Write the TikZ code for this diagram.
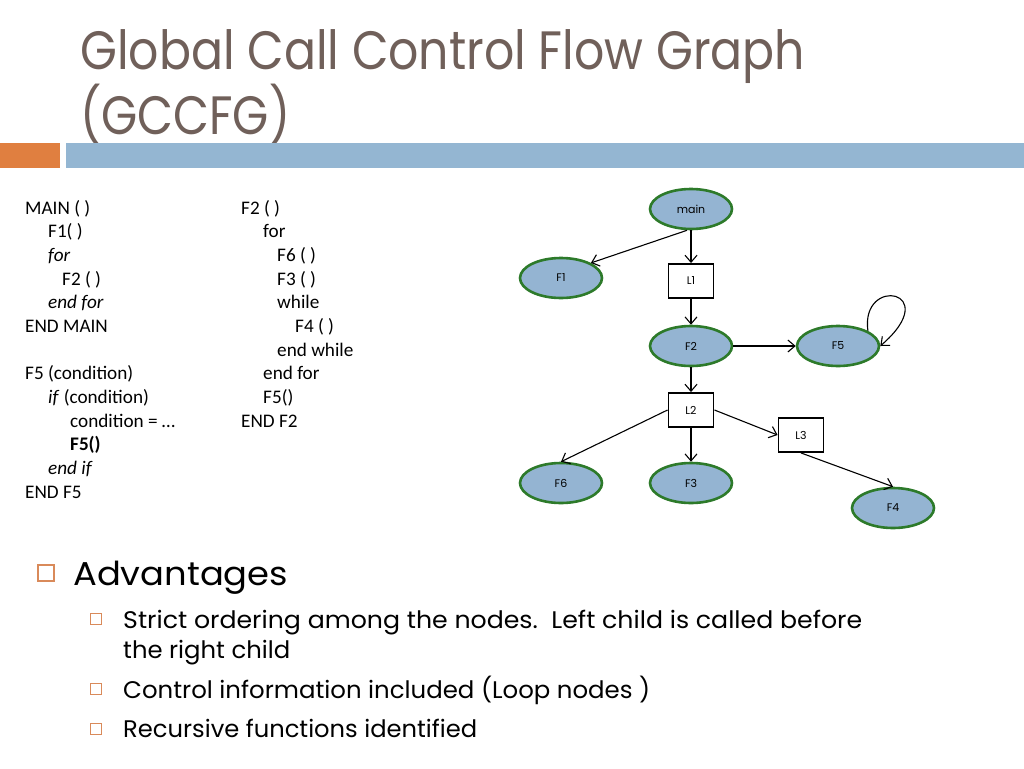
\documentclass[tikz,border=0pt]{standalone}
\usepackage{fontspec}
\usepackage{graphicx}
\setmainfont{Poppins}
\newfontfamily\codefont{Carlito}
\usetikzlibrary{shapes.geometric,arrows.meta}
\definecolor{titlecol}{HTML}{70605A}
\definecolor{orangebar}{HTML}{E07F40}
\definecolor{bluebar}{HTML}{94B6D2}
\definecolor{nodefill}{HTML}{94B4D2}
\definecolor{nodeborder}{HTML}{2D7A2A}
\definecolor{bulletcol}{HTML}{D98A5A}
\newcommand{\fitw}[2]{\resizebox{#1}{\height}{#2}}
\begin{document}
\begin{tikzpicture}[x=1pt,y=-1pt,
  fnode/.style={ellipse, draw=nodeborder, line width=2.6pt, fill=nodefill,
    minimum width=82pt, minimum height=40pt, inner sep=0pt,
    font=\fontsize{11}{13}\selectfont},
  loopbox/.style={rectangle, draw=black, line width=1.9pt, fill=white,
    minimum width=45pt, minimum height=34pt, inner sep=0pt,
    font=\fontsize{11}{13}\selectfont},
  edge/.style={draw=black, line width=1.1pt, -{Straight Barb[length=7pt,width=12pt]}},
  code/.style={anchor=base west, inner sep=0pt, font=\codefont\fontsize{19.2}{22}\selectfont},
  titletext/.style={anchor=base west, inner sep=0pt, text=titlecol, font=\fontsize{54}{60}\selectfont},
  bigbul/.style={anchor=base west, inner sep=0pt, font=\fontsize{33}{38}\selectfont},
  smallbul/.style={anchor=base west, inner sep=0pt, font=\fontsize{24}{28}\selectfont},
  bulbox/.style={draw=bulletcol, line width=1.3pt},
]
\useasboundingbox (0,0) rectangle (1024,768);
\fill[white] (0,0) rectangle (1024,768);

% title
\node[titletext] (t1) at (80,70) {\fitw{725pt}{Global Call Control Flow Graph}};
\node[titletext] (t2) at (80,134) {\fitw{210pt}{(GCCFG)}};

% bars
\fill[orangebar] (0,143) rectangle (60,168);
\fill[bluebar] (66,143) rectangle (1024,168);

% code left
\def\ls{23.67}
\def\cy{214}
\node[code] (c1) at (25,\cy) {MAIN ( )};
\node[code] (c2) at (48,{\cy+\ls}) {F1( )};
\node[code] (c3) at (48,{\cy+2*\ls}) {\itshape for};
\node[code] (c4) at (62,{\cy+3*\ls}) {F2 ( )};
\node[code] (c5) at (48,{\cy+4*\ls}) {\itshape end for};
\node[code] (c6) at (25,{\cy+5*\ls}) {END MAIN};
\node[code] (c7) at (25,{\cy+7*\ls}) {F5 (condition)};
\node[code] (c8) at (48,{\cy+8*\ls}) {\textit{if} (condition)};
\node[code] (c9) at (70,{\cy+9*\ls}) {condition = …};
\node[code] (c10) at (70,{\cy+10*\ls}) {\bfseries F5()};
\node[code] (c11) at (48,{\cy+11*\ls}) {\itshape end if};
\node[code] (c12) at (25,{\cy+12*\ls}) {END F5};

% code right
\node[code] (d1) at (241,\cy) {F2 ( )};
\node[code] (d2) at (263,{\cy+\ls}) {for};
\node[code] (d3) at (277,{\cy+2*\ls}) {F6 ( )};
\node[code] (d4) at (277,{\cy+3*\ls}) {F3 ( )};
\node[code] (d5) at (277,{\cy+4*\ls}) {while};
\node[code] (d6) at (295,{\cy+5*\ls}) {F4 ( )};
\node[code] (d7) at (277,{\cy+6*\ls}) {end while};
\node[code] (d8) at (263,{\cy+7*\ls}) {end for};
\node[code] (d9) at (263,{\cy+8*\ls}) {F5()};
\node[code] (d10) at (241,{\cy+9*\ls}) {END F2};

% graph
\node[fnode] (main) at (691,209) {main};
\node[fnode] (F1) at (561,278) {F1};
\node[loopbox] (L1) at (691,281) {L1};
\node[fnode] (F2) at (691,346) {F2};
\node[fnode] (F5) at (838,346) {F5};
\node[loopbox] (L2) at (691,410) {L2};
\node[loopbox] (L3) at (801,435) {L3};
\node[fnode] (F6) at (561,483) {F6};
\node[fnode] (F3) at (691,483) {F3};
\node[fnode] (F4) at (893,508) {F4};

\draw[edge] (main.south) ++(-4,0) coordinate (ms) -- (F1.north east);
\draw[edge] (main.south) -- (L1.north);
\draw[edge] (L1.south) -- (F2.north);
\draw[edge] (F2.east) -- (F5.west);
\draw[edge] (F5.north east) .. controls (860,275) and (945,290) .. (F5.east);
\draw[edge] (F2.south) -- (L2.north);
\draw[edge] (L2.west) -- (F6.north);
\draw[edge] (L2.south) -- (F3.north);
\draw[edge] (L2.east) -- (L3.west);
\draw[edge] (L3.south) -- (F4.north);

% bullets
\draw[bulbox] (38,565) rectangle (54,581);
\node[bigbul] (b0) at (73,585) {\fitw{215pt}{Advantages}};
\draw[bulbox] (90.5,613.5) rectangle (101.5,624.5);
\node[smallbul] (b1) at (123,628) {\fitw{739pt}{Strict ordering among the nodes.\ \ Left child is called before}};
\node[smallbul] (b1b) at (123,658) {\fitw{167pt}{the right child}};
\draw[bulbox] (90.5,683.5) rectangle (101.5,694.5);
\node[smallbul] (b2) at (123,698) {\fitw{527pt}{Control information included (Loop nodes )}};
\draw[bulbox] (90.5,723.5) rectangle (101.5,734.5);
\node[smallbul] (b3) at (123,737) {\fitw{354pt}{Recursive functions identified}};
\end{tikzpicture}
\end{document}
